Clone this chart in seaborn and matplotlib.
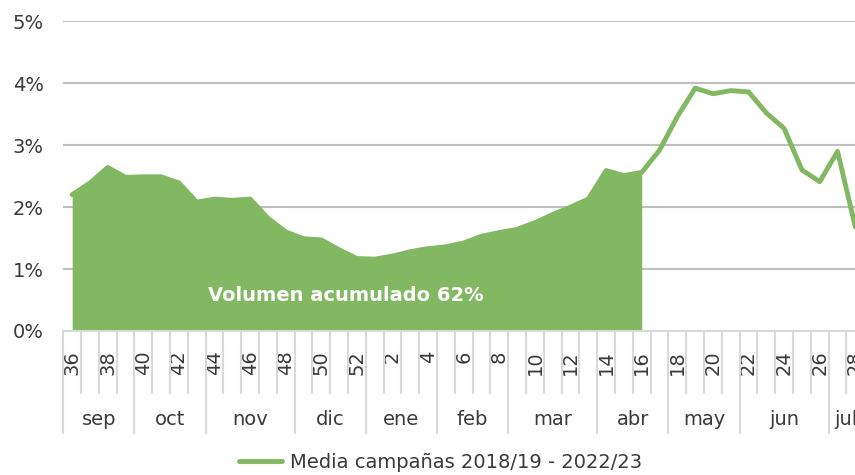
import matplotlib.pyplot as plt
import seaborn as sns
import pandas as pd

# semanas de campaña (sep -> jul)
weeks = [36, 37, 38, 39, 40, 41, 42, 43, 44, 45, 46, 47, 48, 49, 50, 51, 52,
         1, 2, 3, 4, 5, 6, 7, 8, 9, 10, 11, 12, 13, 14, 15, 16,
         17, 18, 19, 20, 21, 22, 23, 24, 25, 26, 27, 28]
# % medio semanal campañas 2018/19 - 2022/23
media = [2.20, 2.39, 2.64, 2.48, 2.49, 2.49, 2.39, 2.08, 2.13, 2.11, 2.13, 1.82,
         1.60, 1.49, 1.47, 1.31, 1.17,
         1.16, 1.21, 1.28, 1.33, 1.36, 1.42, 1.53, 1.59, 1.64, 1.75, 1.88, 2.00,
         2.13, 2.59, 2.51, 2.56,
         2.92, 3.46, 3.92, 3.83, 3.88, 3.86, 3.52, 3.27, 2.60, 2.41, 2.90, 1.68]
months = ['sep', 'oct', 'nov', 'dic', 'ene', 'feb', 'mar', 'abr', 'may', 'jun', 'jul']
month_weeks = [4, 4, 5, 4, 4, 4, 5, 4, 4, 5, 2]
acum_hasta = 16  # ultima semana del volumen acumulado
serie = 'Media campañas 2018/19 - 2022/23'

verde = '#82B862'
gris_txt = '#3A3A3A'

sns.set_theme(style='white')
plt.rcParams['font.family'] = ['DejaVu Sans', 'Noto Sans']

df = pd.DataFrame({'pos': range(len(weeks)), 'semana': weeks, 'media': media})
n_acum = weeks.index(acum_hasta) + 1

fig = plt.figure(figsize=(8.55, 4.75), dpi=100)
ax = fig.add_axes([0.074, 0.3032, 0.9368, 0.652])

ax.fill_between(df['pos'][:n_acum], 0, df['media'][:n_acum], color=verde, lw=0, zorder=2)
sns.lineplot(data=df, x='pos', y='media', color=verde, lw=3.5, ax=ax, label=serie, zorder=3)
ax.get_legend().remove()

ax.set_xlim(-0.5, len(weeks) - 0.5)
ax.set_ylim(0, 5)
ax.set_yticks(range(6))
ax.set_yticklabels([f'{i}%' for i in range(6)], fontsize=14, color=gris_txt)
ax.yaxis.grid(True, color='#BFBFBF', lw=1.5)
ax.set_axisbelow(True)
ax.set_xlabel('')
ax.set_ylabel('')

ax.set_xticks(df['pos'])
ax.set_xticklabels([str(w) if w % 2 == 0 else '' for w in weeks],
                   rotation=90, fontsize=14, color=gris_txt, va='top', ha='center')
ax.tick_params(axis='x', length=0, pad=14)
ax.tick_params(axis='y', length=0, pad=14)

for s in ['top', 'right', 'left']:
    ax.spines[s].set_visible(False)
ax.spines['bottom'].set_color('#D9D9D9')
ax.spines['bottom'].set_linewidth(1.5)

# lineas de categoria y meses bajo el eje
tr = ax.get_xaxis_transform()
bordes = []
ini = 0
for m, n in zip(months, month_weeks):
    bordes.append(ini - 0.5)
    ax.text(ini + (n - 1) / 2, -0.287, m, transform=tr, ha='center', va='center',
            fontsize=14, color=gris_txt, clip_on=False)
    ini += n
bordes.append(ini - 0.5)
for i in range(len(weeks) + 1):
    b = i - 0.5
    y1 = -0.33 if b in bordes else -0.2
    ax.plot([b, b], [0, y1], transform=tr, color='#D9D9D9', lw=1.5, clip_on=False)

ax.text(15.4, 0.565, 'Volumen acumulado 62%', color='white', fontweight='bold',
        ha='center', va='center', fontsize=14, zorder=4)

h, l = ax.get_legend_handles_labels()
fig.legend(h, l, loc='center', bbox_to_anchor=(0.515, 0.027), frameon=False,
           handlelength=2.2, handletextpad=0.4, fontsize=14, labelcolor=gris_txt)

fig.savefig('out.png', dpi=100)
